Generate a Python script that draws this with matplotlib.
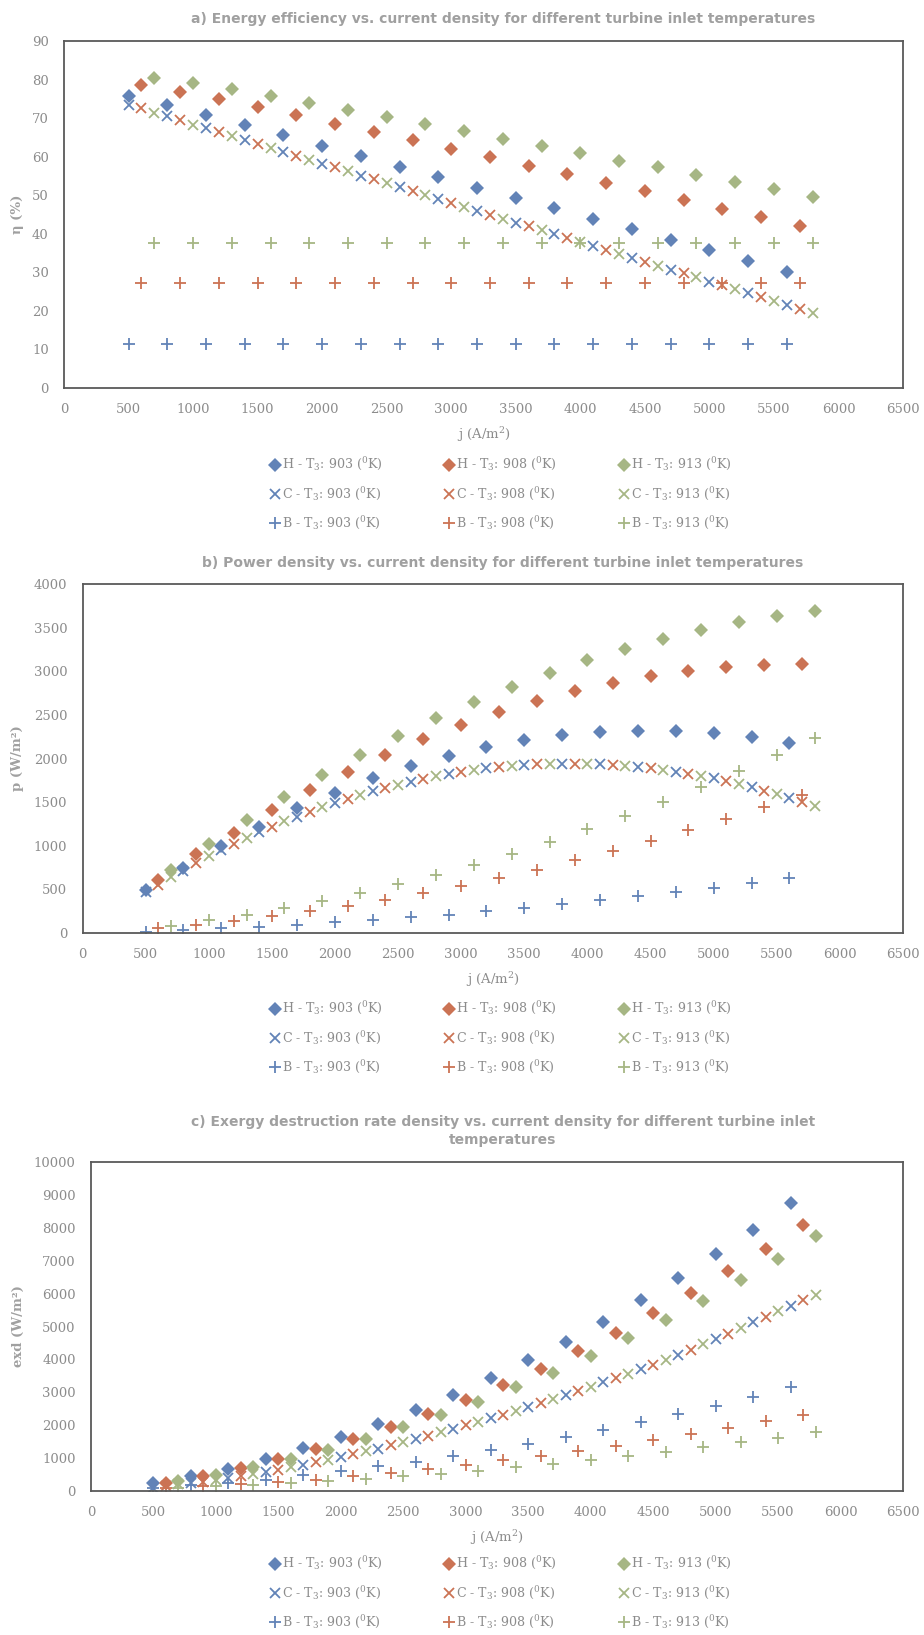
import matplotlib
matplotlib.use("Agg")
import matplotlib.pyplot as plt

# current density (A/m2) for each turbine inlet temperature
j_903 = [500, 800, 1100, 1400, 1700, 2000, 2300, 2600, 2900, 3200, 3500, 3800, 4100, 4400, 4700, 5000, 5300, 5600]
j_908 = [600, 900, 1200, 1500, 1800, 2100, 2400, 2700, 3000, 3300, 3600, 3900, 4200, 4500, 4800, 5100, 5400, 5700]
j_913 = [700, 1000, 1300, 1600, 1900, 2200, 2500, 2800, 3100, 3400, 3700, 4000, 4300, 4600, 4900, 5200, 5500, 5800]

# a) energy efficiency (%)
eta_H_903 = [75.8, 73.3, 70.8, 68.1, 65.5, 62.8, 60.1, 57.4, 54.7, 52.0, 49.3, 46.6, 43.9, 41.2, 38.4, 35.7, 33.0, 30.2]
eta_H_908 = [78.6, 76.8, 74.9, 72.8, 70.7, 68.5, 66.4, 64.2, 62.0, 59.8, 57.6, 55.4, 53.2, 51.0, 48.8, 46.5, 44.3, 42.1]
eta_H_913 = [80.5, 79.0, 77.5, 75.7, 73.9, 72.1, 70.3, 68.4, 66.6, 64.7, 62.8, 60.9, 59.0, 57.2, 55.3, 53.4, 51.5, 49.6]
eta_C_903 = [73.4, 70.5, 67.4, 64.3, 61.3, 58.2, 55.1, 52.1, 49.0, 46.0, 42.9, 39.9, 36.8, 33.7, 30.7, 27.6, 24.6, 21.6]
eta_C_908 = [72.5, 69.4, 66.3, 63.3, 60.2, 57.2, 54.1, 51.1, 48.0, 44.9, 41.9, 38.8, 35.8, 32.7, 29.7, 26.6, 23.6, 20.5]
eta_C_913 = [71.4, 68.3, 65.3, 62.3, 59.2, 56.2, 53.1, 50.0, 47.0, 43.9, 40.9, 37.8, 34.8, 31.7, 28.7, 25.6, 22.6, 19.5]
eta_B_903 = [11.3] * 18
eta_B_908 = [27.3] * 18
eta_B_913 = [37.6] * 18

# b) power density (W/m2)
p_H_903 = [490, 750, 1000, 1215, 1430, 1610, 1772, 1914, 2029, 2132, 2213, 2266, 2305, 2320, 2320, 2293, 2247, 2178]
p_H_908 = [612, 900, 1149, 1405, 1639, 1849, 2041, 2220, 2389, 2534, 2657, 2772, 2864, 2948, 3001, 3047, 3070, 3078]
p_H_913 = [727, 1022, 1294, 1562, 1807, 2037, 2255, 2462, 2649, 2825, 2979, 3128, 3258, 3373, 3476, 3560, 3629, 3691]
p_C_903 = [470, 716, 949, 1156, 1332, 1493, 1627, 1734, 1822, 1887, 1926, 1941, 1933, 1903, 1849, 1773, 1673, 1547]
p_C_908 = [555, 804, 1022, 1217, 1390, 1539, 1665, 1769, 1849, 1903, 1933, 1941, 1926, 1887, 1826, 1742, 1631, 1501]
p_C_913 = [643, 880, 1091, 1279, 1443, 1581, 1700, 1796, 1868, 1918, 1937, 1937, 1918, 1868, 1799, 1708, 1589, 1451]
p_B_903 = [8, 31, 57, 69, 88, 123, 149, 180, 211, 249, 287, 333, 375, 421, 471, 517, 574, 632]
p_B_908 = [55, 88, 134, 191, 249, 314, 383, 459, 544, 632, 727, 831, 938, 1053, 1179, 1309, 1443, 1581]
p_B_913 = [84, 145, 211, 287, 371, 459, 563, 670, 785, 911, 1045, 1187, 1344, 1505, 1677, 1857, 2041, 2236]

# c) exergy destruction rate density (W/m2)
ex_H_903 = [243, 446, 678, 972, 1296, 1630, 2035, 2451, 2927, 3423, 3970, 4516, 5144, 5792, 6461, 7200, 7939, 8739]
ex_H_908 = [243, 466, 699, 972, 1276, 1590, 1934, 2349, 2754, 3230, 3716, 4253, 4800, 5397, 6025, 6673, 7362, 8081]
ex_H_913 = [294, 496, 719, 972, 1256, 1590, 1934, 2299, 2714, 3149, 3595, 4111, 4648, 5205, 5782, 6400, 7058, 7737]
ex_C_903 = [80, 250, 395, 587, 800, 1033, 1286, 1580, 1884, 2218, 2552, 2916, 3301, 3706, 4142, 4618, 5124, 5630]
ex_C_908 = [140, 273, 456, 648, 871, 1114, 1387, 1681, 1995, 2319, 2673, 3038, 3433, 3838, 4294, 4770, 5286, 5792]
ex_C_913 = [200, 334, 516, 719, 952, 1205, 1478, 1782, 2106, 2441, 2795, 3170, 3565, 3990, 4456, 4942, 5458, 5965]
ex_B_903 = [91, 172, 243, 344, 476, 597, 749, 881, 1053, 1235, 1438, 1640, 1863, 2096, 2349, 2592, 2856, 3149]
ex_B_908 = [81, 142, 213, 273, 344, 446, 547, 668, 800, 932, 1073, 1225, 1377, 1559, 1732, 1914, 2114, 2319]
ex_B_913 = [81, 142, 182, 243, 314, 375, 446, 527, 618, 719, 830, 932, 1053, 1185, 1327, 1478, 1620, 1792]

temps = ['903', '908', '913']
j_vals = [j_903, j_908, j_913]
colors = ['#6283b7', '#cb7354', '#a6b684']
gray = '#8c8c8c'

plt.rcParams['mathtext.fontset'] = 'dejavuserif'

fig = plt.figure(figsize=(9.24, 16.35), dpi=100)


def panel(rect, series, ylim, yticks, title, title_y, ylabel, leg_y):
    ax = fig.add_axes(rect)
    handles = []
    # handles go column-wise so the legend rows read H / C / B
    for i, t in enumerate(temps):
        for kind, marker, ms, mew in [('H', 'D', 7.2, 0.0), ('C', 'x', 7.5, 1.3), ('B', '+', 8.5, 1.3)]:
            ln, = ax.plot(j_vals[i], series[kind][i], linestyle='none', marker=marker,
                          markersize=ms, markeredgewidth=mew, color=colors[i],
                          label=kind + ' - T$_3$: ' + t + ' ($^0$K)')
            handles.append(ln)
    ax.set_xlim(0, 6500)
    ax.set_xticks(range(0, 6501, 500))
    ax.set_ylim(*ylim)
    ax.set_yticks(yticks)
    ax.tick_params(length=0, labelsize=9.5, labelcolor=gray, pad=11)
    for lab in ax.get_xticklabels() + ax.get_yticklabels():
        lab.set_family('DejaVu Serif')
    for s in ax.spines.values():
        s.set_color('#595959')
        s.set_linewidth(1.3)
    ax.set_xlabel('j (A/m$^2$)', family='DejaVu Serif', fontsize=9.5, color=gray, labelpad=6)
    fig.text(503 / 924, 1 - title_y / 1635, title, ha='center', va='center',
             family='DejaVu Sans', weight='bold', fontsize=10, color='#a0a0a0',
             linespacing=1.4)
    ycen = rect[1] + rect[3] / 2
    fig.text(18 / 924, ycen, ylabel, rotation=90, ha='center', va='center',
             family='DejaVu Serif', weight='bold', fontsize=9.5, color='#a0a0a0')
    ax.legend(handles=handles, ncol=3, loc='center', frameon=False,
              bbox_to_anchor=(500 / 924, 1 - leg_y / 1635), bbox_transform=fig.transFigure,
              prop={'family': 'DejaVu Serif', 'size': 9.1}, labelcolor=gray,
              handletextpad=0.05, handlelength=1.0, columnspacing=4.8, labelspacing=0.95)
    return ax


panel([64 / 924, 1 - 388 / 1635, 839 / 924, 347 / 1635],
      {'H': [eta_H_903, eta_H_908, eta_H_913],
       'C': [eta_C_903, eta_C_908, eta_C_913],
       'B': [eta_B_903, eta_B_908, eta_B_913]},
      (0, 90), range(0, 91, 10),
      'a) Energy efficiency vs. current density for different turbine inlet temperatures',
      19, 'η (%)', 494)

panel([82.5 / 924, 1 - 933 / 1635, 820.5 / 924, 349 / 1635],
      {'H': [p_H_903, p_H_908, p_H_913],
       'C': [p_C_903, p_C_908, p_C_913],
       'B': [p_B_903, p_B_908, p_B_913]},
      (0, 4000), range(0, 4001, 500),
      'b) Power density vs. current density for different turbine inlet temperatures',
      563, 'p (W/m²)', 1038)

panel([91 / 924, 1 - 1491 / 1635, 812 / 924, 329 / 1635],
      {'H': [ex_H_903, ex_H_908, ex_H_913],
       'C': [ex_C_903, ex_C_908, ex_C_913],
       'B': [ex_B_903, ex_B_908, ex_B_913]},
      (0, 10000), range(0, 10001, 1000),
      'c) Exergy destruction rate density vs. current density for different turbine inlet\ntemperatures',
      1131, 'exd (W/m²)', 1593)

fig.savefig('out.png', dpi=100, facecolor='white')
